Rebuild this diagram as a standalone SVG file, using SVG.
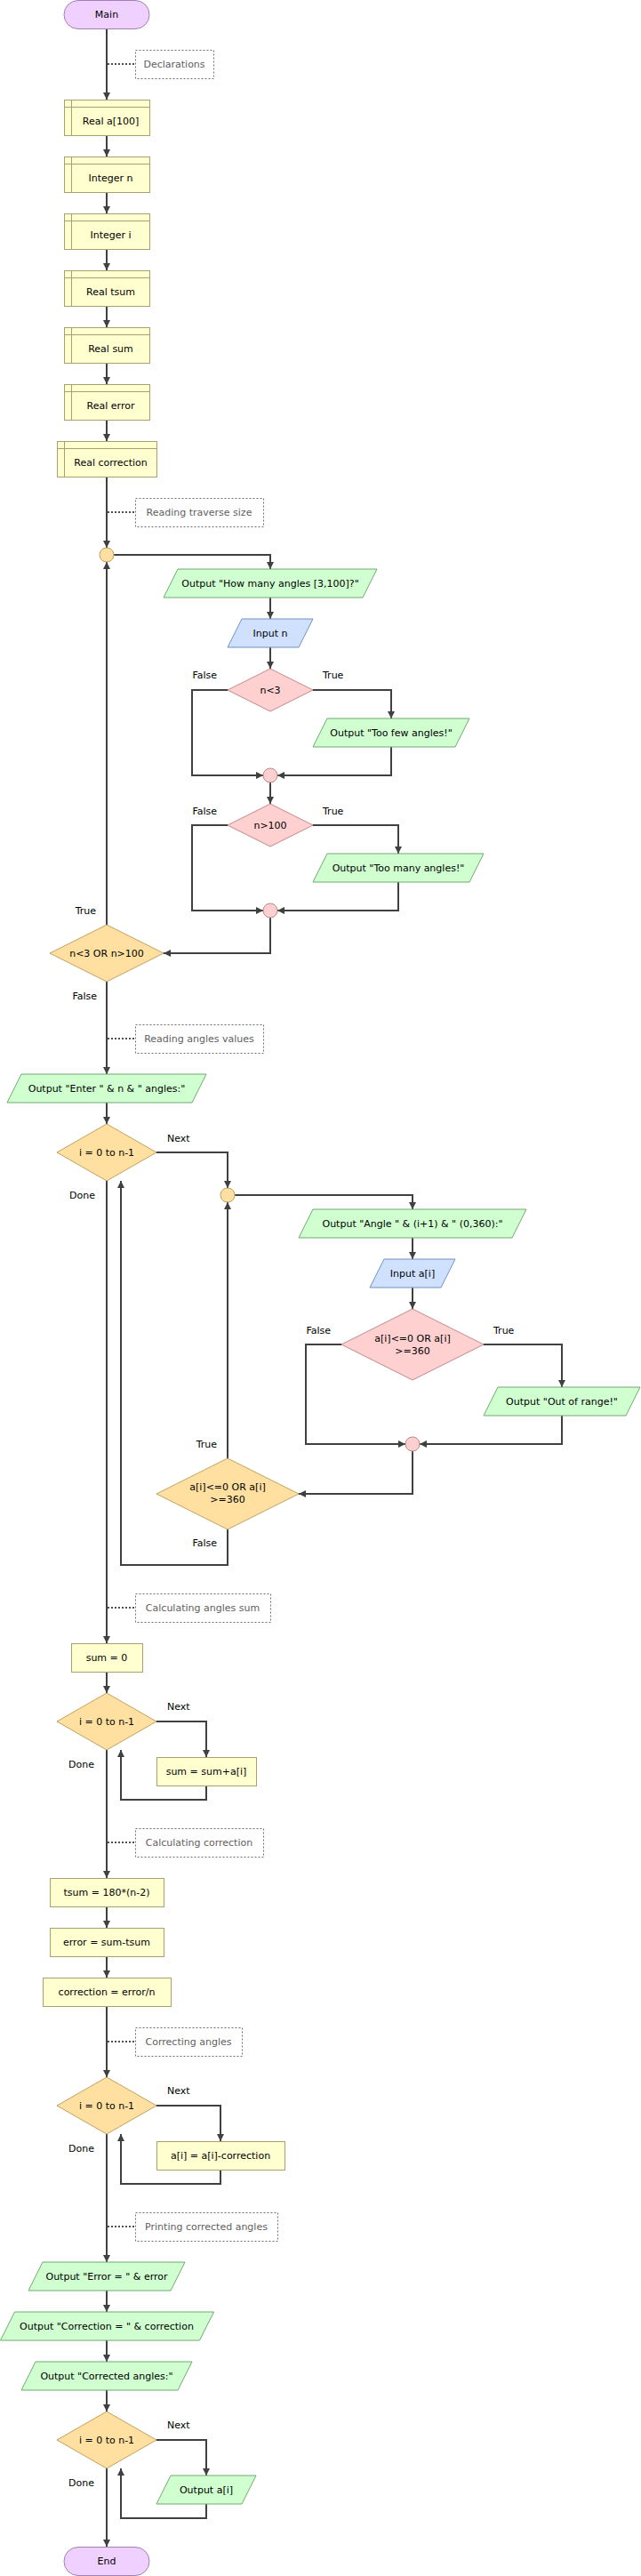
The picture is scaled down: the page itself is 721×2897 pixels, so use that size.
<svg xmlns="http://www.w3.org/2000/svg" width="721" height="2897" viewBox="0 0 721 2897">
<defs>
<marker id="ah" markerUnits="userSpaceOnUse" markerWidth="9" markerHeight="9" refX="8" refY="4.5" orient="auto">
<path d="M0,0.5 L8,4.5 L0,8.5 z" fill="#404040"/>
</marker>
<style>
text{font-family:"DejaVu Sans","Liberation Sans",sans-serif;font-size:11px;fill:#000;text-anchor:middle}
.lbl{text-anchor:start}
.lbe{text-anchor:end}
.cm text{fill:#606060}
.term{fill:#f0d0ff;stroke:#a080b0;stroke-width:1}
.proc{fill:#ffffd0;stroke:#a8a070;stroke-width:1}
.out{fill:#d0ffd0;stroke:#70a870;stroke-width:1}
.inp{fill:#d0e0ff;stroke:#7090c0;stroke-width:1}
.ifd{fill:#ffd0d0;stroke:#c08888;stroke-width:1}
.loop{fill:#ffe0a0;stroke:#c0a060;stroke-width:1}
.cbox{fill:#fff;stroke:#707070;stroke-width:1;stroke-dasharray:2,2}
.cline{stroke:#505050;stroke-width:2;stroke-dasharray:2,2;fill:none}
#connectors path{fill:none;stroke:#404040;stroke-width:2}
.a{marker-end:url(#ah)}
</style>
</defs>
<rect width="721" height="2897" fill="#fff"/>

<g id="connectors">
<path class="a" d="M120,32 V112"/>
<path class="a" d="M120,152 V176"/>
<path class="a" d="M120,216 V240"/>
<path class="a" d="M120,280 V304"/>
<path class="a" d="M120,344 V368"/>
<path class="a" d="M120,408 V432"/>
<path class="a" d="M120,472 V496"/>
<path class="a" d="M120,536 V616"/>
<path class="a" d="M128,624 H304 V640"/>
<path class="a" d="M304,672 V696"/>
<path class="a" d="M304,728 V752"/>
<path class="a" d="M256,776 H216 V872 H296"/>
<path class="a" d="M352,776 H440 V808"/>
<path class="a" d="M440,840 V872 H312"/>
<path class="a" d="M304,880 V904"/>
<path class="a" d="M256,928 H216 V1024 H296"/>
<path class="a" d="M352,928 H448 V960"/>
<path class="a" d="M448,992 V1024 H312"/>
<path class="a" d="M304,1032 V1072 H184"/>
<path class="a" d="M120,1040 V632"/>
<path class="a" d="M120,1104 V1208"/>
<path class="a" d="M120,1240 V1264"/>
<path class="a" d="M176,1296 H256 V1336"/>
<path class="a" d="M264,1344 H464 V1360"/>
<path class="a" d="M464,1392 V1416"/>
<path class="a" d="M464,1448 V1472"/>
<path class="a" d="M384,1512 H344 V1624 H456"/>
<path class="a" d="M544,1512 H632 V1560"/>
<path class="a" d="M632,1592 V1624 H472"/>
<path class="a" d="M464,1632 V1680 H336"/>
<path class="a" d="M256,1640 V1352"/>
<path class="a" d="M256,1720 V1760 H136 V1328"/>
<path class="a" d="M120,1328 V1848"/>
<path class="a" d="M120,1880 V1904"/>
<path class="a" d="M176,1936 H232 V1976"/>
<path class="a" d="M232,2008 V2024 H136 V1968"/>
<path class="a" d="M120,1968 V2112"/>
<path class="a" d="M120,2144 V2168"/>
<path class="a" d="M120,2200 V2224"/>
<path class="a" d="M120,2256 V2336"/>
<path class="a" d="M176,2368 H248 V2408"/>
<path class="a" d="M248,2440 V2456 H136 V2400"/>
<path class="a" d="M120,2400 V2544"/>
<path class="a" d="M120,2576 V2600"/>
<path class="a" d="M120,2632 V2656"/>
<path class="a" d="M120,2688 V2712"/>
<path class="a" d="M176,2744 H232 V2784"/>
<path class="a" d="M232,2816 V2832 H136 V2776"/>
<path class="a" d="M120,2776 V2864"/>
</g>

<g id="labels">
<text class="lbe" x="244" y="763">False</text>
<text class="lbl" x="363" y="763">True</text>
<text class="lbe" x="244" y="916">False</text>
<text class="lbl" x="363" y="916">True</text>
<text class="lbe" x="108" y="1028">True</text>
<text class="lbe" x="109" y="1124">False</text>
<text class="lbl" x="188" y="1284">Next</text>
<text class="lbe" x="107" y="1348">Done</text>
<text class="lbe" x="372" y="1500">False</text>
<text class="lbl" x="555" y="1500">True</text>
<text class="lbe" x="244" y="1628">True</text>
<text class="lbe" x="244" y="1739">False</text>
<text class="lbl" x="188" y="1923">Next</text>
<text class="lbe" x="106" y="1988">Done</text>
<text class="lbl" x="188" y="2355">Next</text>
<text class="lbe" x="106" y="2420">Done</text>
<text class="lbl" x="188" y="2731">Next</text>
<text class="lbe" x="106" y="2796">Done</text>
</g>

<g id="main"><rect class="term" x="72" y="0.5" width="96" height="32" rx="16"/><text x="120" y="20">Main</text></g>

<g id="c-declarations" class="cm"><path class="cline" d="M121,72 H152"/><rect class="cbox" x="152.5" y="56.5" width="88" height="32"/><text x="196" y="76">Declarations</text></g>

<g id="d-a"><rect class="proc" x="72.5" y="112.5" width="96" height="40"/><path class="proc" d="M80.5,112.5 V152.5 M72.5,120.5 H168.5"/><text x="124.5" y="140">Real a[100]</text></g>
<g id="d-n"><rect class="proc" x="72.5" y="176.5" width="96" height="40"/><path class="proc" d="M80.5,176.5 V216.5 M72.5,184.5 H168.5"/><text x="124.5" y="204">Integer n</text></g>
<g id="d-i"><rect class="proc" x="72.5" y="240.5" width="96" height="40"/><path class="proc" d="M80.5,240.5 V280.5 M72.5,248.5 H168.5"/><text x="124.5" y="268">Integer i</text></g>
<g id="d-tsum"><rect class="proc" x="72.5" y="304.5" width="96" height="40"/><path class="proc" d="M80.5,304.5 V344.5 M72.5,312.5 H168.5"/><text x="124.5" y="332">Real tsum</text></g>
<g id="d-sum"><rect class="proc" x="72.5" y="368.5" width="96" height="40"/><path class="proc" d="M80.5,368.5 V408.5 M72.5,376.5 H168.5"/><text x="124.5" y="396">Real sum</text></g>
<g id="d-error"><rect class="proc" x="72.5" y="432.5" width="96" height="40"/><path class="proc" d="M80.5,432.5 V472.5 M72.5,440.5 H168.5"/><text x="124.5" y="460">Real error</text></g>
<g id="d-correction"><rect class="proc" x="64.5" y="496.5" width="112" height="40"/><path class="proc" d="M72.5,496.5 V536.5 M64.5,504.5 H176.5"/><text x="124.5" y="524">Real correction</text></g>

<g id="c-reading-size" class="cm"><path class="cline" d="M121,576 H152"/><rect class="cbox" x="152.5" y="560.5" width="144" height="32"/><text x="224" y="580">Reading traverse size</text></g>

<g id="loop1-join"><circle class="loop" cx="120" cy="624" r="8"/></g>
<g id="out-howmany"><polygon class="out" points="200,640 424,640 408,672 184,672"/><text x="304" y="660">Output "How many angles [3,100]?"</text></g>
<g id="in-n"><polygon class="inp" points="272,696 352,696 336,728 256,728"/><text x="304" y="716">Input n</text></g>
<g id="if-nlt3"><polygon class="ifd" points="304,752 352,776 304,800 256,776"/><text x="304" y="780">n&lt;3</text></g>
<g id="out-toofew"><polygon class="out" points="368,808 528,808 512,840 352,840"/><text x="440" y="828">Output "Too few angles!"</text></g>
<g id="if1-join"><circle class="ifd" cx="304" cy="872" r="8"/></g>
<g id="if-ngt100"><polygon class="ifd" points="304,904 352,928 304,952 256,928"/><text x="304" y="932">n&gt;100</text></g>
<g id="out-toomany"><polygon class="out" points="368,960 544,960 528,992 352,992"/><text x="448" y="980">Output "Too many angles!"</text></g>
<g id="if2-join"><circle class="ifd" cx="304" cy="1024" r="8"/></g>
<g id="do-cond1"><polygon class="loop" points="120,1040 184,1072 120,1104 56,1072"/><text x="120" y="1076">n&lt;3 OR n&gt;100</text></g>

<g id="c-reading-values" class="cm"><path class="cline" d="M121,1168 H152"/><rect class="cbox" x="152.5" y="1152.5" width="144" height="32"/><text x="224" y="1172">Reading angles values</text></g>

<g id="out-enter"><polygon class="out" points="24,1208 232,1208 216,1240 8,1240"/><text x="120" y="1228">Output "Enter " &amp; n &amp; " angles:"</text></g>
<g id="for1"><polygon class="loop" points="120,1264 176,1296 120,1328 64,1296"/><text x="120" y="1300">i = 0 to n-1</text></g>
<g id="loop2-join"><circle class="loop" cx="256" cy="1344" r="8"/></g>
<g id="out-angle"><polygon class="out" points="352,1360 592,1360 576,1392 336,1392"/><text x="464" y="1380">Output "Angle " &amp; (i+1) &amp; " (0,360):"</text></g>
<g id="in-ai"><polygon class="inp" points="432,1416 512,1416 496,1448 416,1448"/><text x="464" y="1436">Input a[i]</text></g>
<g id="if-range"><polygon class="ifd" points="464,1472 544,1512 464,1552 384,1512"/><text x="464" y="1509">a[i]&lt;=0 OR a[i]</text><text x="464" y="1523">&gt;=360</text></g>
<g id="out-range"><polygon class="out" points="560,1560 720,1560 704,1592 544,1592"/><text x="632" y="1580">Output "Out of range!"</text></g>
<g id="if3-join"><circle class="ifd" cx="464" cy="1624" r="8"/></g>
<g id="do-cond2"><polygon class="loop" points="256,1640 336,1680 256,1720 176,1680"/><text x="256" y="1676">a[i]&lt;=0 OR a[i]</text><text x="256" y="1690">&gt;=360</text></g>

<g id="c-sum" class="cm"><path class="cline" d="M121,1808 H152"/><rect class="cbox" x="152.5" y="1792.5" width="152" height="32"/><text x="228" y="1812">Calculating angles sum</text></g>

<g id="a-sum0"><rect class="proc" x="80.5" y="1848.5" width="80" height="32"/><text x="120" y="1868">sum = 0</text></g>
<g id="for2"><polygon class="loop" points="120,1904 176,1936 120,1968 64,1936"/><text x="120" y="1940">i = 0 to n-1</text></g>
<g id="a-sumadd"><rect class="proc" x="176.5" y="1976.5" width="112" height="32"/><text x="232" y="1996">sum = sum+a[i]</text></g>

<g id="c-corr" class="cm"><path class="cline" d="M121,2072 H152"/><rect class="cbox" x="152.5" y="2056.5" width="144" height="32"/><text x="224" y="2076">Calculating correction</text></g>

<g id="a-tsum"><rect class="proc" x="56.5" y="2112.5" width="128" height="32"/><text x="120" y="2132">tsum = 180*(n-2)</text></g>
<g id="a-error"><rect class="proc" x="56.5" y="2168.5" width="128" height="32"/><text x="120" y="2188">error = sum-tsum</text></g>
<g id="a-correction"><rect class="proc" x="48.5" y="2224.5" width="144" height="32"/><text x="120" y="2244">correction = error/n</text></g>

<g id="c-correcting" class="cm"><path class="cline" d="M121,2296 H152"/><rect class="cbox" x="152.5" y="2280.5" width="120" height="32"/><text x="212" y="2300">Correcting angles</text></g>

<g id="for3"><polygon class="loop" points="120,2336 176,2368 120,2400 64,2368"/><text x="120" y="2372">i = 0 to n-1</text></g>
<g id="a-ai"><rect class="proc" x="176.5" y="2408.5" width="144" height="32"/><text x="248" y="2428">a[i] = a[i]-correction</text></g>

<g id="c-printing" class="cm"><path class="cline" d="M121,2504 H152"/><rect class="cbox" x="152.5" y="2488.5" width="160" height="32"/><text x="232" y="2508">Printing corrected angles</text></g>

<g id="out-error"><polygon class="out" points="48,2544 208,2544 192,2576 32,2576"/><text x="120" y="2564">Output "Error = " &amp; error</text></g>
<g id="out-correction"><polygon class="out" points="16.5,2600 240.5,2600 224.5,2632 0.5,2632"/><text x="120" y="2620">Output "Correction = " &amp; correction</text></g>
<g id="out-corrected"><polygon class="out" points="40,2656 216,2656 200,2688 24,2688"/><text x="120" y="2676">Output "Corrected angles:"</text></g>
<g id="for4"><polygon class="loop" points="120,2712 176,2744 120,2776 64,2744"/><text x="120" y="2748">i = 0 to n-1</text></g>
<g id="out-ai"><polygon class="out" points="192,2784 288,2784 272,2816 176,2816"/><text x="232" y="2804">Output a[i]</text></g>
<g id="end"><rect class="term" x="72" y="2864.5" width="96" height="32" rx="16"/><text x="120" y="2884">End</text></g>
</svg>
